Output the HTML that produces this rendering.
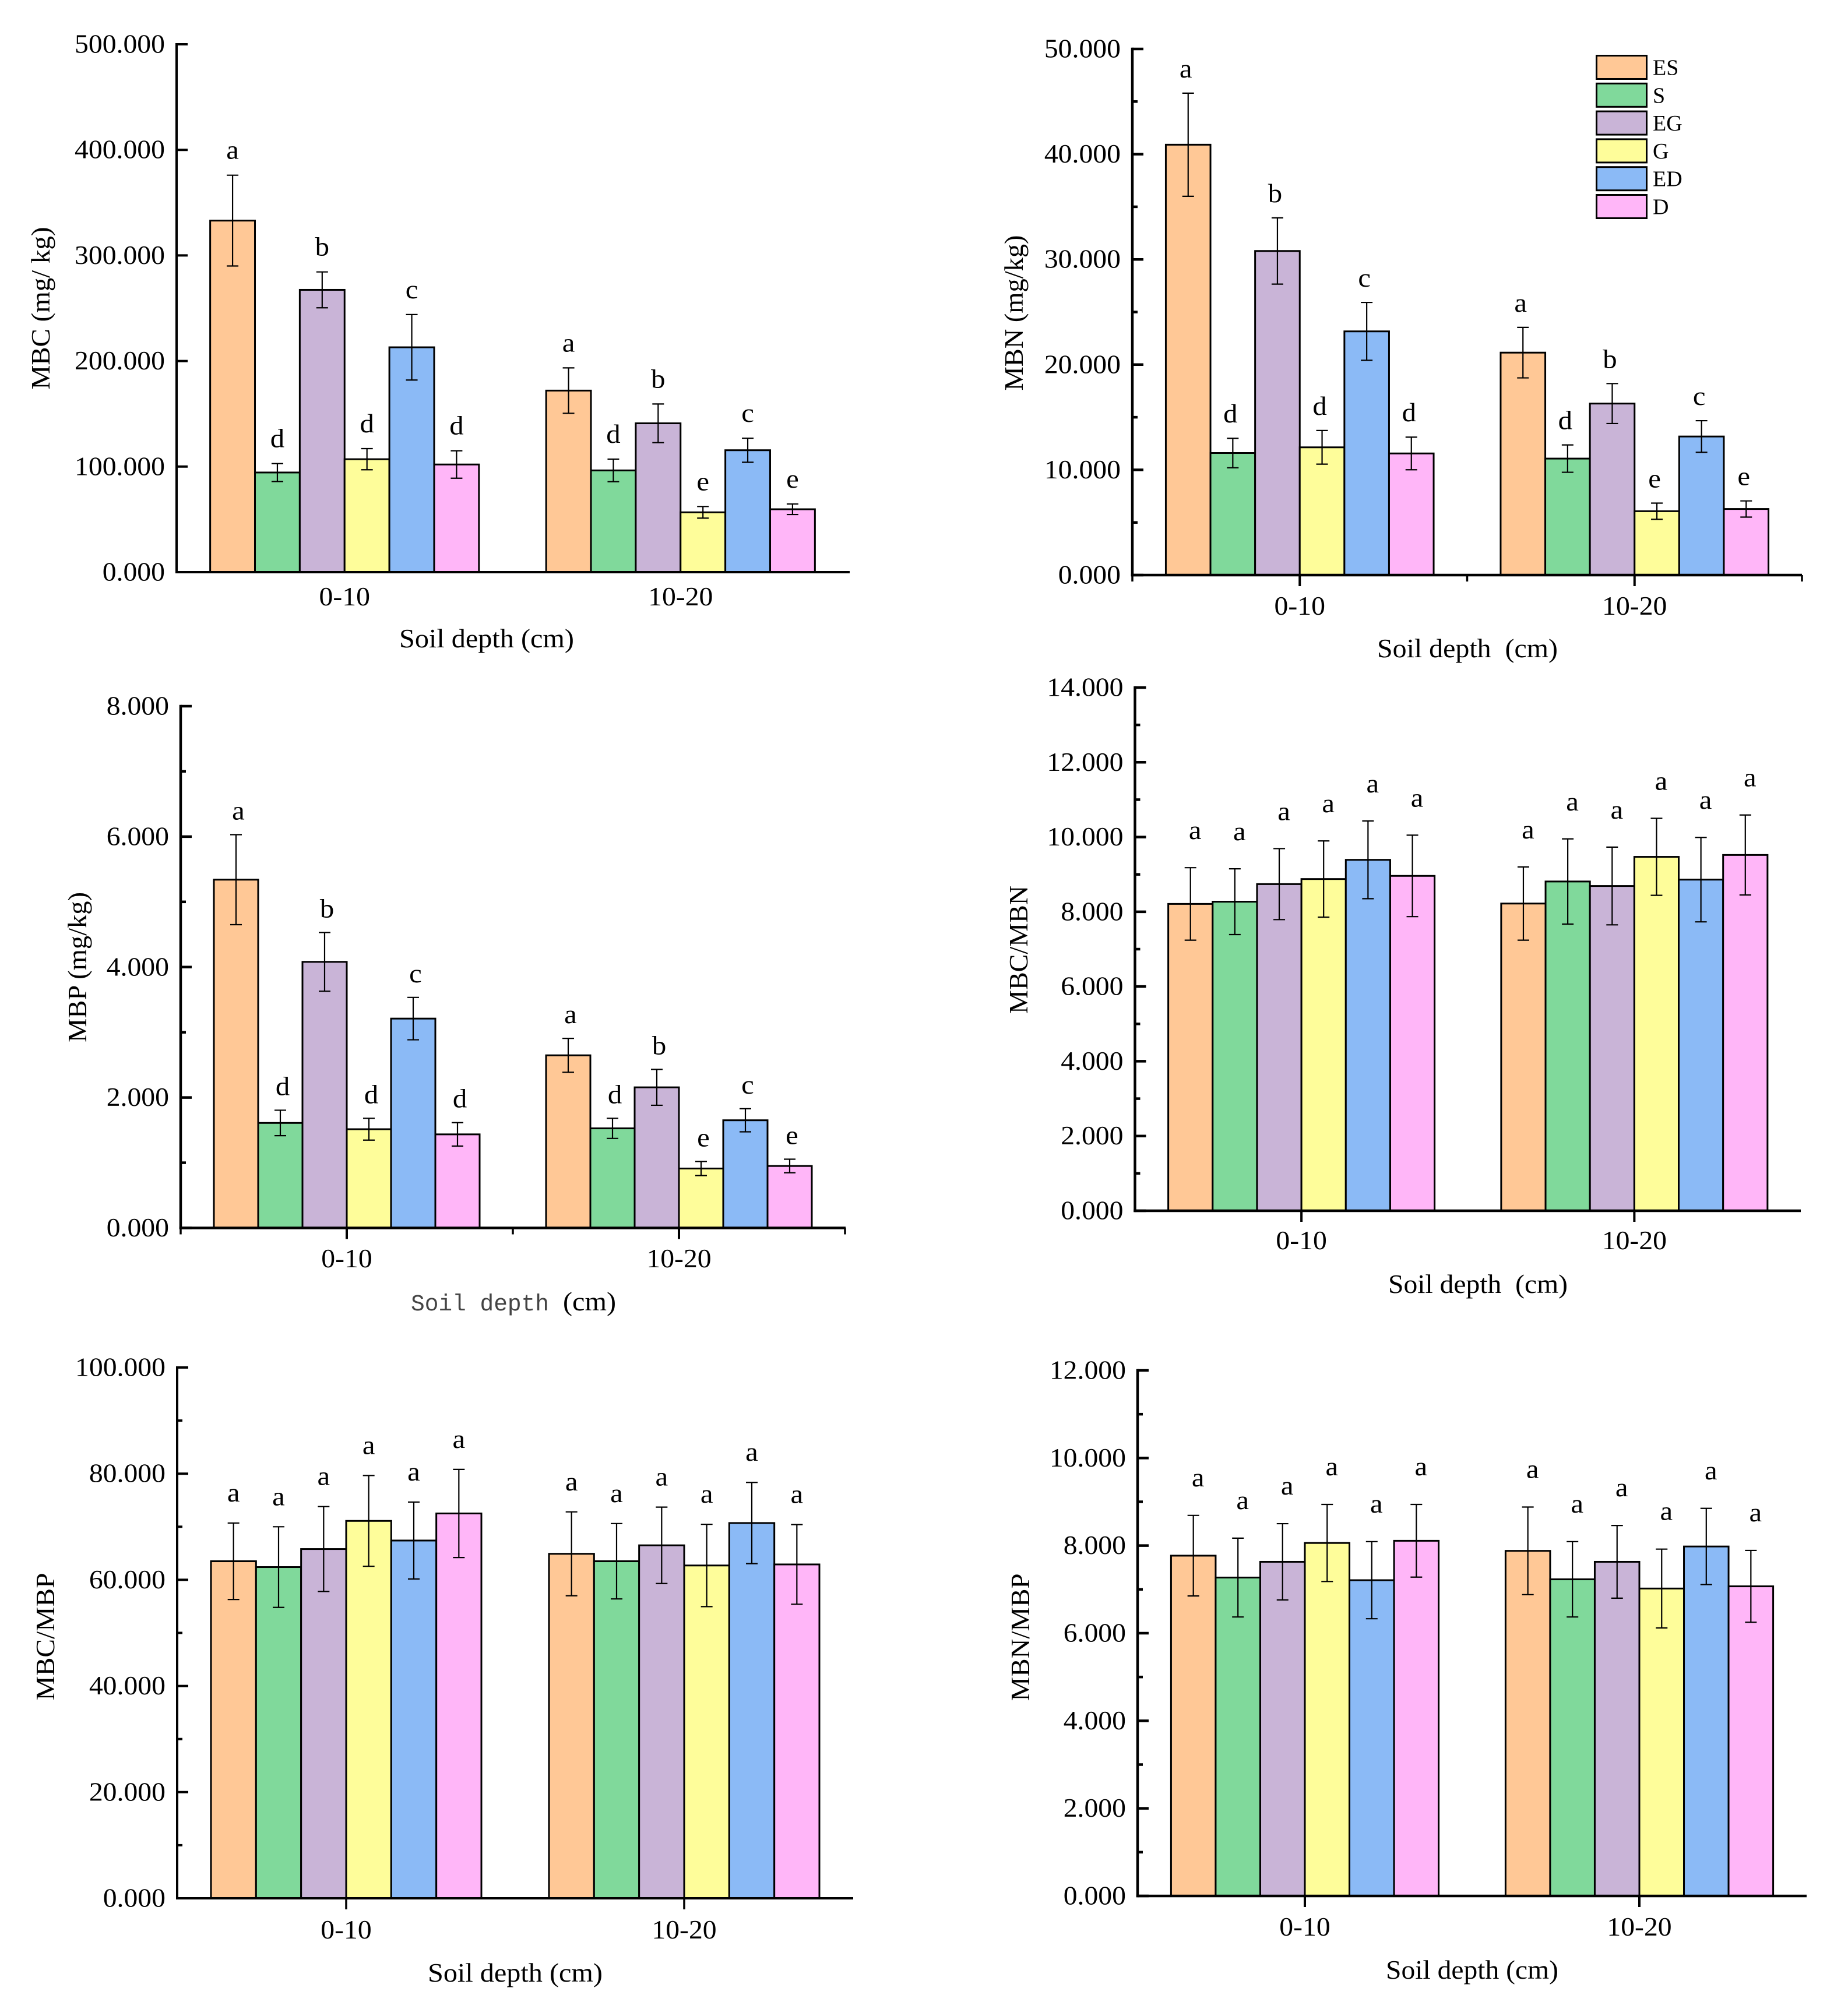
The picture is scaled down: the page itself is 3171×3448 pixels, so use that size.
<!DOCTYPE html>
<html lang="en">
<head>
<meta charset="utf-8">
<title>Soil microbial biomass bar charts</title>
<style>
html,body{margin:0;padding:0;background:#fff;width:3171px;height:3448px;overflow:hidden}
svg{display:block}
text{font-family:"Liberation Serif","Noto Serif CJK SC",serif;fill:#000}
</style>
</head>
<body>
<svg id="figure" xmlns="http://www.w3.org/2000/svg" width="3171" height="3448" viewBox="0 0 3171 3448"></svg>
<script>
const categories = ['0-10', '10-20'];
const seriesNames = ['ES', 'S', 'EG', 'G', 'ED', 'D'];

const mbcTickLabels = ['0.000', '100.000', '200.000', '300.000', '400.000', '500.000'];
const mbcValues = [[333, 94.4, 267.4, 107, 213, 102], [172, 96.4, 141, 56.7, 115.5, 59.6]];
const mbcErrors = [[43, 8.5, 17, 10, 31, 13], [21.5, 10.7, 18.3, 5.5, 11.4, 5]];
const mbcLetters = [['a', 'd', 'b', 'd', 'c', 'd'], ['a', 'd', 'b', 'e', 'c', 'e']];

const mbnTickLabels = ['0.000', '10.000', '20.000', '30.000', '40.000', '50.000'];
const mbnValues = [[40.9, 11.6, 30.8, 12.14, 23.16, 11.56], [21.14, 11.07, 16.3, 6.07, 13.17, 6.28]];
const mbnErrors = [[4.9, 1.4, 3.15, 1.6, 2.75, 1.55], [2.4, 1.3, 1.9, 0.77, 1.5, 0.77]];
const mbnLetters = [['a', 'd', 'b', 'd', 'c', 'd'], ['a', 'd', 'b', 'e', 'c', 'e']];

const mbpTickLabels = ['0.000', '2.000', '4.000', '6.000', '8.000'];
const mbpValues = [[5.34, 1.61, 4.08, 1.514, 3.21, 1.435], [2.647, 1.527, 2.156, 0.911, 1.651, 0.95]];
const mbpErrors = [[0.69, 0.195, 0.45, 0.167, 0.325, 0.18], [0.26, 0.154, 0.275, 0.108, 0.177, 0.104]];
const mbpLetters = [['a', 'd', 'b', 'd', 'c', 'd'], ['a', 'd', 'b', 'e', 'c', 'e']];

const cnTickLabels = ['0.000', '2.000', '4.000', '6.000', '8.000', '10.000', '12.000', '14.000'];
const cnValues = [[8.21, 8.27, 8.74, 8.876, 9.39, 8.96], [8.22, 8.81, 8.69, 9.47, 8.86, 9.52]];
const cnErrors = [[0.97, 0.88, 0.95, 1.02, 1.04, 1.09], [0.98, 1.14, 1.04, 1.03, 1.13, 1.07]];
const cnLetters = [['a', 'a', 'a', 'a', 'a', 'a'], ['a', 'a', 'a', 'a', 'a', 'a']];

const cpTickLabels = ['0.000', '20.000', '40.000', '60.000', '80.000', '100.000'];
const cpValues = [[63.5, 62.4, 65.8, 71.1, 67.4, 72.5], [64.9, 63.5, 66.5, 62.7, 70.7, 62.9]];
const cpErrors = [[7.2, 7.6, 8, 8.55, 7.25, 8.3], [7.9, 7.1, 7.2, 7.75, 7.65, 7.5]];
const cpLetters = [['a', 'a', 'a', 'a', 'a', 'a'], ['a', 'a', 'a', 'a', 'a', 'a']];

const npTickLabels = ['0.000', '2.000', '4.000', '6.000', '8.000', '10.000', '12.000'];
const npValues = [[7.77, 7.27, 7.63, 8.06, 7.21, 8.11], [7.88, 7.23, 7.63, 7.02, 7.98, 7.07]];
const npErrors = [[0.92, 0.9, 0.87, 0.88, 0.88, 0.83], [1, 0.86, 0.83, 0.9, 0.87, 0.82]];
const npLetters = [['a', 'a', 'a', 'a', 'a', 'a'], ['a', 'a', 'a', 'a', 'a', 'a']];

const fills = { ES: '#FFC896', S: '#80D99B', EG: '#C9B4D7', G: '#FEFD9A', ED: '#8BBAF6', D: '#FFB6F8' };

const panels = [
  { id: 'mbc', ticks: mbcTickLabels, values: mbcValues, errors: mbcErrors, letters: mbcLetters,
    left: 303, right: 1456, axisEnd: 1458, top: 76, bottom: 982, axisW: 4, minorY: false, xTicks: 'none',
    gap: 28, dx: 0, xLabelY: 1039,
    yTitle: 'MBC (mg/ kg)', yTitleX: 85, yTitleY: 529, yTitleLen: 279,
    xTitle: 'Soil depth (cm)', xTitleX: 835, xTitleY: 1111, xTitleLen: 300 },
  { id: 'mbn', ticks: mbnTickLabels, values: mbnValues, errors: mbnErrors, letters: mbnLetters,
    left: 1943, right: 3092, axisEnd: 3092, top: 84, bottom: 987, axisW: 4.5, minorY: true, xTicks: 'full',
    gap: 27, dx: -4, xLabelY: 1055,
    yTitle: 'MBN (mg/kg)', yTitleX: 1755, yTitleY: 537, yTitleLen: 267,
    xTitle: 'Soil depth\u00A0\u00A0(cm)', xTitleX: 2518, xTitleY: 1128, xTitleLen: 310 },
  { id: 'mbp', ticks: mbpTickLabels, values: mbpValues, errors: mbpErrors, letters: mbpLetters,
    left: 310, right: 1450, axisEnd: 1451, top: 1212, bottom: 2107.5, axisW: 4.5, minorY: true, xTicks: 'full',
    gap: 26, dx: 4, xLabelY: 2175,
    yTitle: 'MBP (mg/kg)', yTitleX: 148, yTitleY: 1660, yTitleLen: 258,
    xTitle: null },
  { id: 'mbc-mbn', ticks: cnTickLabels, values: cnValues, errors: cnErrors, letters: cnLetters,
    left: 1947.5, right: 3090, axisEnd: 3090, top: 1180, bottom: 2078, axisW: 4.5, minorY: true, xTicks: 'center',
    gap: 49, dx: 8, xLabelY: 2144,
    yTitle: 'MBC/MBN', yTitleX: 1763, yTitleY: 1630, yTitleLen: 220,
    xTitle: 'Soil depth\u00A0\u00A0(cm)', xTitleX: 2536, xTitleY: 2219, xTitleLen: 308 },
  { id: 'mbc-mbp', ticks: cpTickLabels, values: cpValues, errors: cpErrors, letters: cpLetters,
    left: 304, right: 1464, axisEnd: 1464, top: 2347, bottom: 3258, axisW: 4, minorY: true, xTicks: 'center',
    gap: 37, dx: 0, xLabelY: 3327,
    yTitle: 'MBC/MBP', yTitleX: 93, yTitleY: 2809, yTitleLen: 219,
    xTitle: 'Soil depth (cm)', xTitleX: 884, xTitleY: 3401, xTitleLen: 300 },
  { id: 'mbn-mbp', ticks: npTickLabels, values: npValues, errors: npErrors, letters: npLetters,
    left: 1952, right: 3100, axisEnd: 3100, top: 2352, bottom: 3254, axisW: 4.5, minorY: true, xTicks: 'center',
    gap: 50, dx: 8, xLabelY: 3322,
    yTitle: 'MBN/MBP', yTitleX: 1766, yTitleY: 2810, yTitleLen: 219,
    xTitle: 'Soil depth (cm)', xTitleX: 2526, xTitleY: 3396, xTitleLen: 296 }
];

const NS = 'http://www.w3.org/2000/svg';
const figure = document.getElementById('figure');

function make(parent, tag, attrs) {
  const el = document.createElementNS(NS, tag);
  for (const k in attrs) el.setAttribute(k, attrs[k]);
  parent.appendChild(el);
  return el;
}
function line(parent, x1, y1, x2, y2, w) {
  return make(parent, 'line', { x1: x1, y1: y1, x2: x2, y2: y2, stroke: '#000', 'stroke-width': w });
}
function stretched(parent, str, x, y, size, anchor) {
  const t = make(parent, 'text', { transform: 'translate(' + x + ' ' + y + ') scale(1.06 1)', 'font-size': size, 'text-anchor': anchor });
  t.textContent = str;
  return t;
}

panels.forEach(function (p) {
  const g = make(figure, 'g', {});
  
  

  const yMax = parseFloat(p.ticks[p.ticks.length - 1]);
  const yScale = function (v) { return p.bottom - (v / yMax) * (p.bottom - p.top); };
  const step = (p.right - p.left) / categories.length;
  const barW = step / 7.5;
  const catCenter = function (c) { return p.left + step * (c + 0.5); };
  const barLeft = function (c, s) { return catCenter(c) + (s - seriesNames.length / 2) * barW; };

  p.values.forEach(function (row, c) {
    row.forEach(function (v, s) {
      const x = barLeft(c, s);
      const y = yScale(v);
      const bar = make(g, 'rect', { x: x, y: y, width: barW, height: p.bottom - y, fill: fills[seriesNames[s]], stroke: '#000', 'stroke-width': 3 });
      
      
    });
  });

  p.values.forEach(function (row, c) {
    row.forEach(function (v, s) {
      const cx = barLeft(c, s) + barW / 2;
      const hi = yScale(v + p.errors[c][s]);
      const lo = yScale(v - p.errors[c][s]);
      const err = make(g, 'g', {});
      
      
      line(err, cx, hi, cx, lo, 2.2);
      line(err, cx - 10, hi, cx + 10, hi, 2.2);
      line(err, cx - 10, lo, cx + 10, lo, 2.2);

      const letter = stretched(g, p.letters[c][s], cx + p.dx, hi - p.gap, 46, 'middle');
      
      
    });
  });

  const yAxis = line(g, p.left, p.top - p.axisW / 2, p.left, p.bottom + p.axisW / 2, p.axisW);
  
  
  const xAxis = line(g, p.left - p.axisW / 2, p.bottom, p.axisEnd, p.bottom, p.axisW);
  
  

  p.ticks.forEach(function (label, i) {
    const v = parseFloat(label);
    const y = yScale(v);
    const tick = line(g, p.left, y, p.left + 19, y, p.axisW);
    
    
    const tl = stretched(g, label, p.left - 20, y + 14.5, 45, 'end');
    
    
    if (p.minorY && i < p.ticks.length - 1) {
      const my = yScale((v + parseFloat(p.ticks[i + 1])) / 2);
      const minor = line(g, p.left, my, p.left + 9, my, p.axisW);
      
      
    }
  });

  categories.forEach(function (cat, c) {
    const cx = catCenter(c);
    if (p.xTicks !== 'none') {
      const t = line(g, cx, p.bottom, cx, p.bottom + 19, p.axisW - 0.5);
      
      
    }
    const xl = stretched(g, cat, cx, p.xLabelY, 45, 'middle');
    
    
  });
  if (p.xTicks === 'full') {
    for (let c = 0; c <= categories.length; c++) {
      const bx = p.left + step * c;
      const m = line(g, bx, p.bottom, bx, p.bottom + 11, p.axisW - 1);
      
      
    }
  }

  const yt = make(g, 'text', { transform: 'translate(' + p.yTitleX + ' ' + p.yTitleY + ') rotate(-90)', 'font-size': 46, 'text-anchor': 'middle', textLength: p.yTitleLen, lengthAdjust: 'spacingAndGlyphs' });
  yt.textContent = p.yTitle;
  
  

  if (p.xTitle) {
    const xt = make(g, 'text', { x: p.xTitleX, y: p.xTitleY, 'font-size': 46, 'text-anchor': 'middle', textLength: p.xTitleLen, lengthAdjust: 'spacingAndGlyphs' });
    xt.textContent = p.xTitle;
    
    
  } else {
    const xa = make(g, 'text', { x: 705, y: 2249, 'font-size': 39.5, textLength: 237, lengthAdjust: 'spacingAndGlyphs' });
    xa.style.fontFamily = '"Liberation Mono", monospace';
    xa.style.fill = '#444';
    xa.textContent = 'Soil depth';
    
    
    const xb = make(g, 'text', { x: 966, y: 2249, 'font-size': 46, textLength: 91, lengthAdjust: 'spacingAndGlyphs' });
    xb.textContent = '(cm)';
    
    
  }
});

const legend = make(figure, 'g', {});


seriesNames.forEach(function (name, i) {
  const swatch = make(legend, 'rect', { x: 2739.5, y: 95.5 + i * 47.8, width: 86, height: 40, fill: fills[name], stroke: '#000', 'stroke-width': 3 });
  
  
  const label = make(legend, 'text', { x: 2836, y: 128.5 + i * 47.8, 'font-size': 38 });
  label.textContent = name;
  
  
});
</script>
</body>
</html>
